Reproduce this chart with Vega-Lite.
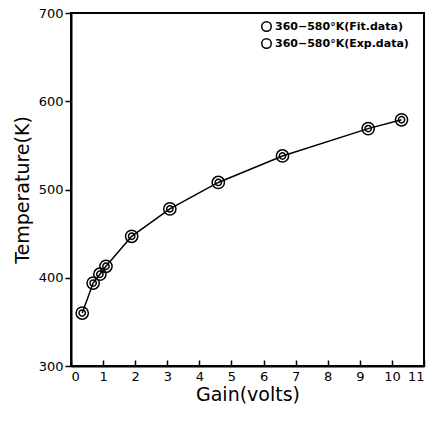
{
  "$schema": "https://vega.github.io/schema/vega-lite/v6.json",
  "autosize": "none",
  "width": 353,
  "height": 353,
  "padding": {"left": 71, "top": 13, "right": 12, "bottom": 58},
  "background": "white",
  "config": {
    "view": {"stroke": "black", "strokeWidth": 2},
    "font": "DejaVu Sans",
    "axis": {"grid": false, "domainColor": "black", "domainWidth": 2, "tickColor": "black", "tickWidth": 1.5, "labelColor": "black", "titleColor": "black", "labelFont": "DejaVu Sans", "titleFont": "DejaVu Sans", "labelFontSize": 13, "titleFontSize": 19, "titleFontWeight": "normal"}
  },
  "data": {"values": [
    {"gain": 0.35, "temp": 360},
    {"gain": 0.69, "temp": 394},
    {"gain": 0.9, "temp": 404},
    {"gain": 1.09, "temp": 413},
    {"gain": 1.89, "temp": 447},
    {"gain": 3.08, "temp": 478},
    {"gain": 4.59, "temp": 508},
    {"gain": 6.59, "temp": 538},
    {"gain": 9.26, "temp": 569},
    {"gain": 10.3, "temp": 579}
  ]},
  "transform": [
    {"fold": ["Fit", "Exp"], "as": ["key", "dummy"]},
    {"calculate": "datum.key === 'Fit' ? '360−580°K(Fit.data)' : '360−580°K(Exp.data)'", "as": "series"}
  ],
  "encoding": {
    "x": {
      "field": "gain", "type": "quantitative",
      "scale": {"domain": [0, 11], "nice": false, "zero": false},
      "axis": {"title": "Gain(volts)", "values": [0,1,2,3,4,5,6,7,8,9,10,11], "tickSize": -6, "labelPadding": 10, "titlePadding": 2}
    },
    "y": {
      "field": "temp", "type": "quantitative",
      "scale": {"domain": [300, 700], "nice": false, "zero": false},
      "axis": {"title": "Temperature(K)", "values": [300,400,500,600,700], "tickSize": 6, "labelPadding": 2, "titlePadding": 6}
    },
    "color": {
      "field": "series", "type": "nominal",
      "scale": {"domain": ["360−580°K(Fit.data)", "360−580°K(Exp.data)"], "range": ["black", "black"]},
      "legend": {
        "title": null, "orient": "none", "legendX": 190, "legendY": 8,
        "labelFontSize": 11, "labelFontWeight": "bold", "labelColor": "black",
        "symbolType": "circle", "symbolStrokeWidth": 1.5, "symbolSize": 90,
        "rowPadding": 0, "labelOffset": 3
      }
    }
  },
  "layer": [
    {
      "transform": [{"filter": "datum.key === 'Fit'"}],
      "mark": {"type": "line", "strokeWidth": 1.5}
    },
    {
      "transform": [{"filter": "datum.key === 'Fit'"}],
      "mark": {"type": "point", "shape": "circle", "filled": false, "strokeWidth": 1.5, "size": 150, "opacity": 1}
    },
    {
      "transform": [{"filter": "datum.key === 'Exp'"}],
      "mark": {"type": "point", "shape": "circle", "filled": false, "strokeWidth": 1.5, "size": 40, "opacity": 1}
    }
  ]
}
